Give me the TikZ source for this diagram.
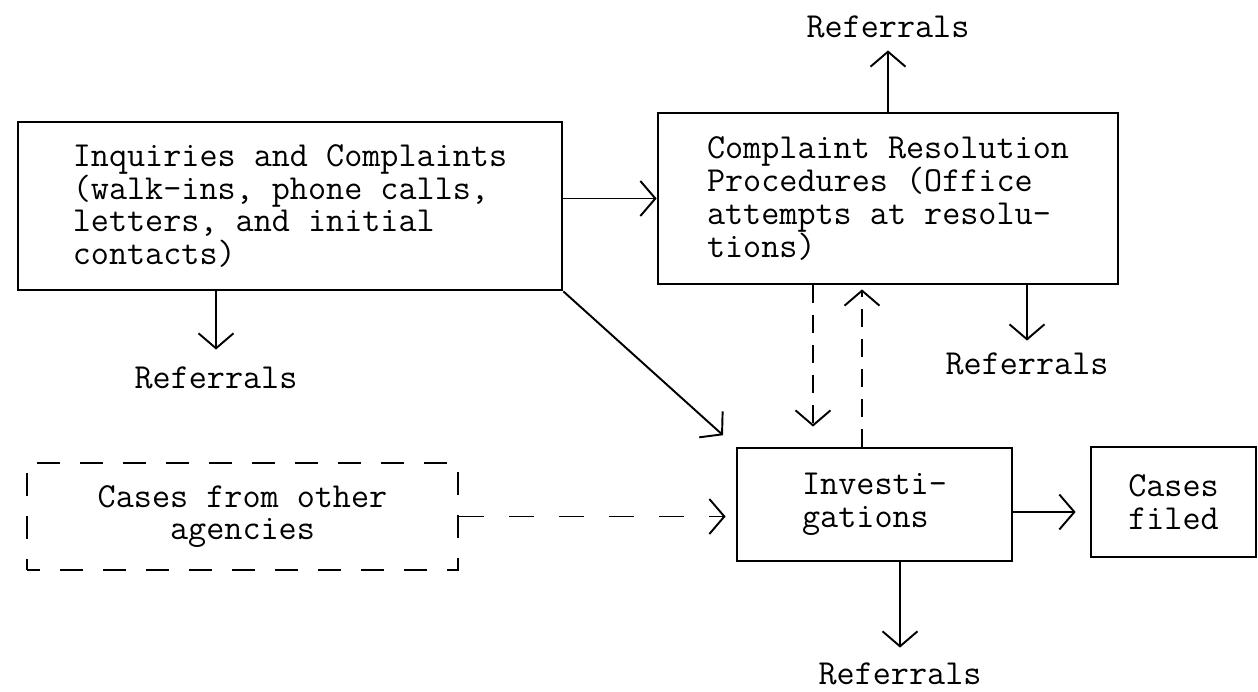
\documentclass[tikz,border=0pt]{standalone}
\usepackage{fontspec}
\usepackage{tikz}
\usetikzlibrary{arrows.meta,calc}

\tikzset{
  box/.style={draw, line width=1.6pt, align=left, inner sep=0pt},
  dbox/.style={draw, line width=1.6pt, dash pattern=on 0.46cm off 0.4cm, dash phase=0.2cm, align=center, inner sep=0pt},
  lbl/.style={inner sep=0pt},
  flow/.style={line width=1.1pt, -{Straight Barb[length=0.3cm,width=0.7cm]}},
  dflow/.style={flow, dash pattern=on 0.36cm off 0.24cm},
}

\begin{document}
\begin{tikzpicture}[x=0.02cm, y=-0.02cm, font=\ttfamily\fontsize{20}{18.6}\selectfont]
    \useasboundingbox (0,0) rectangle (1258,692);

    \node[box, minimum width=10.88cm, minimum height=3.36cm] (inq) at (290,206)
        {Inquiries and Complaints\\(walk-ins, phone calls,\\letters, and initial\\contacts)};
    \node[box, minimum width=9.2cm, minimum height=3.42cm] (res) at (888,198.5)
        {Complaint Resolution\\Procedures (Office\\attempts at resolu-\\tions)};
    \node[box, minimum width=5.5cm, minimum height=2.26cm] (inv) at (874.5,504.5)
        {Investi-\\gations};
    \node[box, align=center, minimum width=3.3cm, minimum height=2.2cm] (filed) at (1173.5,502)
        {Cases\\filed};
    \node[dbox, minimum width=8.62cm, minimum height=2.14cm] (other) at (242.5,516.5)
        {Cases from other\\agencies};

    \node[lbl] (rtop) at (888,27) {Referrals};
    \node[lbl] (rleft) at (216,378) {Referrals};
    \node[lbl] (rright) at (1027,364) {Referrals};
    \node[lbl] (rbot) at (900,674) {Referrals};

    \draw[flow] (res.west -| inq.east) -- (res.west);
    \draw[flow, shorten >=0.24cm] (rtop.south |- res.north) -- (rtop.south);
    \draw[flow, shorten >=0.34cm] (rleft.north |- inq.south) -- (rleft.north);
    \draw[flow, shorten >=0.24cm] (rright.north |- res.south) -- (rright.north);
    \draw[flow, shorten >=0.3cm] (rbot.north |- inv.south) -- (rbot.north);
    \draw[flow, shorten >=0.34cm] (inq.south east) -- (inv.north west);

    \draw[dflow, shorten >=0.4cm] ($(res.south)+(-75,0)$) -- ($(inv.north)+(-61.5,0)$);
    \draw[dflow, shorten >=0.08cm] ($(inv.north)+(-12.5,0)$) -- ($(res.south)+(-26,0)$);
    \draw[flow, dash pattern=on 0.5cm off 0.5cm, shorten >=0.2cm] (other.east) -- (other.east -| inv.west);

    \coordinate (fl) at ($(inv.east)+(0,7.5)$);
    \draw[flow, shorten >=0.28cm] (fl) -- (fl -| filed.west);
\end{tikzpicture}
\end{document}
